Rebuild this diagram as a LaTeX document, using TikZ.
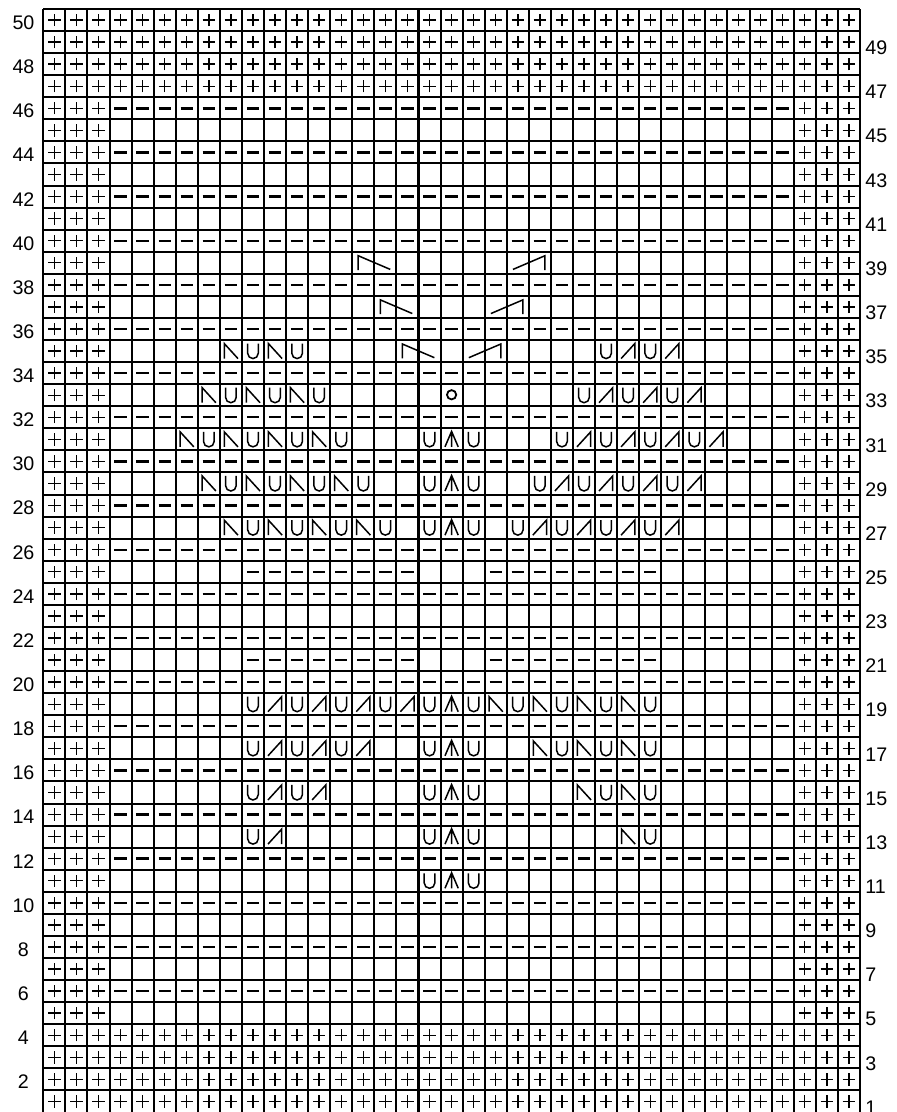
\documentclass[tikz,border=0pt]{standalone}
\usepackage{fontspec}
\setmainfont{Liberation Sans}
\usepackage{tikz}

\begin{document}
\begin{tikzpicture}[x=11pt,y=11pt,
  sym/.style={line width=0.75pt},
  num/.style={font=\fontsize{9.8}{11}\selectfont,inner sep=0pt},
  plus/.pic={\draw[line width=0.7pt] (-0.28,0) -- (0.28,0) (0,-0.28) -- (0,0.28);},
  purl/.pic={\draw[line width=1.2pt] (-0.28,0) -- (0.28,0);},
  yo/.pic={\draw[sym] (-0.24,0.34) -- (-0.24,-0.1) arc (180:360:0.24) -- (0.24,0.34);},
  ssk/.pic={\draw[sym] (0.32,-0.34) -- (-0.3,0.34) -- (-0.3,-0.34);},
  ktog/.pic={\draw[sym] (-0.32,-0.34) -- (0.3,0.34) -- (0.3,-0.34);},
  cdd/.pic={\draw[sym] (-0.3,-0.34) -- (0,0.36) -- (0.3,-0.34) (0,0.36) -- (0,-0.34);},
  ring/.pic={\draw[line width=0.9pt] (0,0.02) circle (0.21);},
  cabL/.pic={\draw[sym] (0.27,0.17) -- (0.27,0.82) -- (1.72,0.2);},
  cabR/.pic={\draw[sym] (0.28,0.2) -- (1.73,0.82) -- (1.73,0.17);}]
\useasboundingbox (-1.962,0.023) rectangle (38.636,50.408);
% knit rows and side edges
\foreach \r in {1,...,4,47,48,49,50}
  \foreach \c in {1,...,37}
    \pic at (\c-0.5,\r-0.5) {plus};
\foreach \r in {5,...,46}
  \foreach \c in {1,2,3,35,36,37}
    \pic at (\c-0.5,\r-0.5) {plus};
% purl rows
\foreach \r in {6,8,...,46}
  \foreach \c in {4,...,34}
    \pic at (\c-0.5,\r-0.5) {purl};
\foreach \r in {21,25}
  \foreach \c in {10,...,17,21,22,...,28}
    \pic at (\c-0.5,\r-0.5) {purl};
% centre stem
\foreach \r in {11,13,15,17,19,27,29,31}{
  \pic at (17.5,\r-0.5) {yo};
  \pic at (18.5,\r-0.5) {cdd};
  \pic at (19.5,\r-0.5) {yo};
}
\pic at (18.5,32.5) {ring};
% lower leaves
\foreach \r/\k in {13/1,15/2,17/3,19/4}
  \foreach \i in {1,...,\k}{
    \pic at (7.5+2*\i,\r-0.5) {yo};
    \pic at (8.5+2*\i,\r-0.5) {ktog};
    \pic at (28.5-2*\i,\r-0.5) {ssk};
    \pic at (29.5-2*\i,\r-0.5) {yo};
  }
% upper leaves
\foreach \r/\s/\k in {27/9/4,29/8/4,31/7/4,33/8/3,35/9/2}
  \foreach \i in {1,...,\k}{
    \pic at (\s+2*\i-2.5,\r-0.5) {ssk};
    \pic at (\s+2*\i-1.5,\r-0.5) {yo};
    \pic at (38.5-\s-2*\i,\r-0.5) {yo};
    \pic at (39.5-\s-2*\i,\r-0.5) {ktog};
  }
% crossed stitches
\foreach \r/\a/\b in {35/17/20,37/16/21,39/15/22}{
  \pic at (\a-1,\r-1) {cabL};
  \pic at (\b-1,\r-1) {cabR};
}
% grid
\foreach \c in {0,...,37}
  \draw[line width=1pt] (\c,0) -- (\c,50);
\foreach \r in {0,...,50}
  \draw[line width=1pt] (0,\r) -- (37,\r);
% row numbers
\foreach \r in {2,4,...,50}
  \node[num] (n\r) at (-0.9,\r-0.62) {\r};
\foreach \r in {1,3,...,49}
  \node[num,anchor=west] (n\r) at (37.23,\r-0.77) {\r};
\end{tikzpicture}
\end{document}
